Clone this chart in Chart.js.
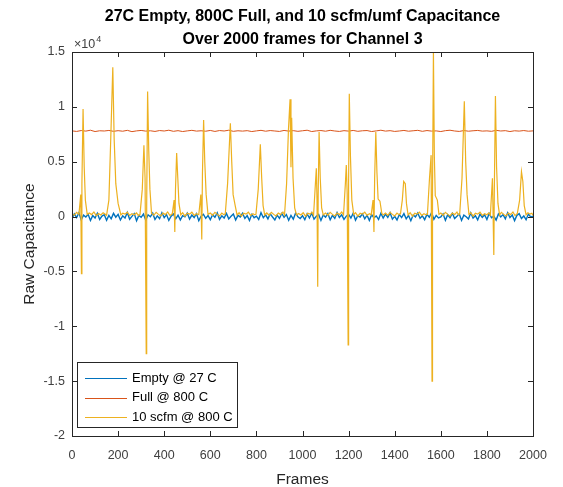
<!DOCTYPE html>
<html>
<head>
<meta charset="utf-8">
<title>Capacitance over 2000 frames</title>
<script src="https://cdn.jsdelivr.net/npm/chart.js@4"></script>
<style>
    html, body { margin: 0; padding: 0; background: #ffffff; }
    #wrap { width: 563px; height: 487px; }
</style>
</head>
<body>
<div id="wrap"><canvas id="capChart" width="563" height="487"></canvas></div>
<script>
// chart data
const titleLines = ['27C Empty, 800C Full, and 10 scfm/umf Capacitance', 'Over 2000 frames for Channel 3'];
const seriesNames = ['Empty @ 27 C', 'Full @ 800 C', '10 scfm @ 800 C'];
const xTicks = [0, 200, 400, 600, 800, 1000, 1200, 1400, 1600, 1800, 2000];
const yTicks = [-20000, -15000, -10000, -5000, 0, 5000, 10000, 15000];

// Empty @ 27 C, one value every 10 frames
const emptyStep = 10;
const emptyValues = [
    -180, 250, -90, 340, -300, 130, -40, 210, -360, 90,
    -130, 300, -260, 40, 170, -340, 100, -210, 290, -60,
    200, -310, 70, -140, 370, -240, 20, 270, -380, 110,
    -70, 230, -330, 160, -20, 310, -270, 60, -190, 350,
    -100, 180, -350, 30, 240, -200, 130, -300, 80, -30,
    320, -230, 140, -90, 270, -370, 40, 210, -160, 100,
    -280, 170, -60, 340, -250, 70, -130, 280, -210, 20,
    230, -320, 110, -30, 300, -170, 90, -360, 200, -100,
    40, -270, 350, -110, 160, -210, 250, -40, -310, 130,
    -160, 280, -70, 180, -340, 100, -240, 310, -20, -180,
    80, -280, 240, -130, 320, -230, 30, 200, -350, 140,
    -60, 270, -300, 110, -170, 360, -80, 160, -250, 40,
    210, -130, 310, -340, 70, -40, 250, -200, 130, -360,
    170, -100, 60, -270, 300, -140, 230, -70, 340, -240,
    20, -310, 180, -90, 270, -210, 100, -380, 140, -30,
    320, -160, 70, -280, 200, -60, 360, -250, 110, -130,
    -40, 240, -340, 170, -100, 300, -180, 30, 250, -350,
    130, -20, -230, 340, -130, 80, -300, 210, -70, 160,
    -270, 280, -110, 40, -320, 240, -30, 180, -200, 350,
    -80, 140, -370, 110, 270, -170, 60, -280, 230, -40,
    30
];

// Full @ 800 C, one value every 20 frames
const fullStep = 20;
const fullValues = [
    7810, 7760, 7840, 7790, 7870, 7750, 7820, 7800, 7850, 7770,
    7830, 7780, 7860, 7740, 7810, 7850, 7790, 7820, 7760, 7840,
    7800, 7870, 7770, 7830, 7750, 7810, 7860, 7790, 7820, 7780,
    7850, 7760, 7840, 7800, 7870, 7770, 7820, 7790, 7830, 7750,
    7810, 7860, 7780, 7840, 7800, 7760, 7850, 7790, 7830, 7770,
    7820, 7870, 7750, 7810, 7840, 7780, 7860, 7800, 7760, 7830,
    7790, 7850, 7770, 7820, 7840, 7750, 7810, 7870, 7790, 7830,
    7760, 7800, 7850, 7780, 7820, 7860, 7770, 7840, 7790, 7810,
    7750, 7830, 7870, 7800, 7760, 7840, 7780, 7820, 7850, 7790,
    7810, 7770, 7860, 7800, 7830, 7750, 7820, 7790, 7840, 7780,
    7810
];

// 10 scfm @ 800 C, [frame, value] pairs (noisy baseline plus bubble spikes)
const scfmPoints = [
    [0, 250], [10, 120], [20, 380], [30, 200],
    [38, 2000], [41, -5200], [43, 3000], [48, 9800], [53, 4500], [58, 1500], [66, 200],
    [75, 320], [85, 180], [95, 420], [105, 90], [115, 280], [125, 150], [135, 350], [143, 240],
    [150, 120], [160, 1500], [168, 7000], [177, 13600], [183, 7000], [190, 3000], [200, 1200], [212, 150],
    [220, 300], [230, 220], [240, 400], [250, 110], [260, 260], [270, 170], [280, 330], [288, 80],
    [295, 200], [305, 2500], [312, 6500], [317, 3500], [322, -12500], [324, 1000], [328, 11400],
    [333, 6000], [338, 2500], [345, 300],
    [355, 120], [365, 380], [375, 200], [385, 60], [395, 320], [405, 180], [415, 420], [425, 90],
    [435, 250], [443, 1500], [446, -1400], [449, 2500], [454, 5800], [459, 3500], [464, 1200], [472, 150],
    [480, 350], [490, 40], [500, 300], [510, 220], [520, 400], [530, 110], [540, 260],
    [550, 170], [559, 2000], [563, -2100], [566, 4000], [571, 8800], [576, 5000], [582, 2000], [590, 200],
    [600, 330], [610, 120], [620, 380], [630, 200], [640, 60], [650, 320], [658, 180],
    [665, 250], [675, 3000], [687, 8500], [693, 5000], [699, 2000], [708, 1000], [716, 150],
    [725, 350], [735, 40], [745, 300], [755, 220], [765, 400], [775, 110], [785, 260], [792, 170],
    [798, 200], [808, 2500], [817, 6600], [823, 3500], [829, 1000], [836, 150],
    [845, 330], [855, 120], [865, 380], [875, 200], [885, 60], [895, 320], [905, 180], [915, 420],
    [922, 150], [931, 3000], [939, 7900], [946, 10700], [950, 4500], [953, 9000], [959, 3500],
    [966, 800], [974, 150],
    [983, 280], [993, 150], [1003, 350], [1013, 40], [1023, 300], [1033, 220], [1041, 400],
    [1048, 110], [1056, 3000], [1060, 4400], [1063, 1500], [1066, -6400], [1068, 2000], [1072, 7700],
    [1077, 3500], [1083, 800], [1090, 150],
    [1100, 330], [1110, 120], [1120, 380], [1130, 200], [1140, 60], [1150, 320], [1160, 180], [1170, 420],
    [1178, 150], [1186, 3000], [1190, 4700], [1194, 2000], [1198, -11700], [1200, 3000], [1203, 11200],
    [1208, 5500], [1214, 1500], [1222, 200],
    [1230, 350], [1240, 40], [1250, 300], [1260, 220], [1270, 400], [1280, 110], [1290, 260],
    [1298, 170], [1306, 1500], [1310, -1400], [1313, 3500], [1318, 7700], [1323, 4000], [1328, 1600],
    [1336, 1400], [1344, 300], [1350, 150],
    [1360, 330], [1370, 120], [1380, 380], [1390, 200], [1400, 60], [1410, 320], [1418, 180],
    [1425, 250], [1433, 1500], [1439, 3200], [1446, 3000], [1451, 1200], [1458, 150],
    [1467, 350], [1477, 40], [1487, 300], [1497, 220], [1507, 400], [1517, 110], [1527, 260], [1535, 170],
    [1542, 200], [1551, 3500], [1558, 5600], [1562, -15000], [1564, 2000], [1568, 15000], [1572, 5500],
    [1576, 1900], [1585, 1500], [1592, 200],
    [1600, 330], [1610, 120], [1620, 380], [1630, 200], [1640, 60], [1650, 320], [1660, 180], [1670, 420],
    [1676, 150],
    [1682, 250], [1692, 3500], [1702, 10500], [1708, 5000], [1714, 2000], [1722, 200],
    [1730, 350], [1740, 40], [1750, 300], [1760, 220], [1770, 400], [1780, 110], [1790, 260], [1800, 170],
    [1808, 330],
    [1815, 120], [1824, 3500], [1830, -3500], [1832, 2000], [1837, 11000], [1842, 4500], [1848, 1200],
    [1855, 150],
    [1863, 380], [1873, 200], [1883, 60], [1893, 320], [1903, 180], [1913, 420], [1922, 90],
    [1932, 280], [1942, 1500], [1950, 4100], [1956, 3200], [1962, 1000], [1970, 150],
    [1978, 350], [1987, 220], [1995, 300], [2000, 120]
];

const seriesColors = ['#0072BD', '#D95319', '#EDB120'];
const axisColor = '#262626';
const labelColor = '#404040';
const fontFamily = '"Liberation Sans", Arial, Helvetica, sans-serif';

(function() {
    const ctx = document.getElementById('capChart').getContext('2d');

    const emptyData = emptyValues.map((v, i) => ({ x: i * emptyStep, y: v }));
    const fullData = fullValues.map((v, i) => ({ x: i * fullStep, y: v }));
    const scfmData = scfmPoints.map(p => ({ x: p[0], y: p[1] }));

    // title, box with inward ticks, x10^4 note and legend drawn on top
    const matlabLook = {
        id: 'matlabLook',
        afterDatasetsDraw(chart) {
            const c = chart.ctx;
            const a = chart.chartArea;
            const xs = chart.scales.x;
            const ys = chart.scales.y;
            c.save();
            c.strokeStyle = axisColor;
            c.lineWidth = 1;
            c.strokeRect(Math.round(a.left) + 0.5, Math.round(a.top) + 0.5,
                Math.round(a.right - a.left), Math.round(a.bottom - a.top));
            c.beginPath();
            xTicks.forEach(t => {
                const px = Math.round(xs.getPixelForValue(t)) + 0.5;
                c.moveTo(px, a.bottom); c.lineTo(px, a.bottom - 5);
                c.moveTo(px, a.top); c.lineTo(px, a.top + 5);
            });
            yTicks.forEach(t => {
                const py = Math.round(ys.getPixelForValue(t)) + 0.5;
                c.moveTo(a.left, py); c.lineTo(a.left + 5, py);
                c.moveTo(a.right, py); c.lineTo(a.right - 5, py);
            });
            c.stroke();

            // exponent label
            c.fillStyle = labelColor;
            c.textBaseline = 'alphabetic';
            c.textAlign = 'left';
            c.font = '12.5px ' + fontFamily;
            c.fillText('\u00d710', a.left + 2, a.top - 4);
            const w = c.measureText('\u00d710').width;
            c.font = '9px ' + fontFamily;
            c.fillText('4', a.left + 2 + w + 1, a.top - 10);

            // title
            const cx = (a.left + a.right) / 2;
            c.fillStyle = '#000000';
            c.textAlign = 'center';
            c.textBaseline = 'middle';
            c.font = 'bold 16px ' + fontFamily;
            c.fillText(titleLines[0], cx, 17);
            c.fillText(titleLines[1], cx, 40);

            // legend box
            const lx = 77, ly = 362, lw = 160, lh = 65;
            c.fillStyle = '#ffffff';
            c.fillRect(lx, ly, lw, lh);
            c.strokeStyle = axisColor;
            c.strokeRect(lx + 0.5, ly + 0.5, lw, lh);
            c.font = '13px ' + fontFamily;
            c.textAlign = 'left';
            seriesNames.forEach((name, i) => {
                const ry = 378 + i * 19.5;
                c.strokeStyle = seriesColors[i];
                c.beginPath();
                c.moveTo(85, Math.round(ry) + 0.5);
                c.lineTo(127, Math.round(ry) + 0.5);
                c.stroke();
                c.fillStyle = '#000000';
                c.fillText(name, 132, ry);
            });
            c.restore();
        }
    };

    new Chart(ctx, {
        type: 'line',
        data: {
            datasets: [
                { label: seriesNames[0], data: emptyData, borderColor: seriesColors[0], borderWidth: 1.4, pointRadius: 0, order: 3 },
                { label: seriesNames[1], data: fullData, borderColor: seriesColors[1], borderWidth: 1, pointRadius: 0, order: 2 },
                { label: seriesNames[2], data: scfmData, borderColor: seriesColors[2], borderWidth: 1.2, pointRadius: 0, order: 1 }
            ]
        },
        options: {
            responsive: false,
            animation: false,
            layout: { padding: { top: 52, right: 30, left: 0, bottom: 0 } },
            scales: {
                x: {
                    type: 'linear',
                    min: 0,
                    max: 2000,
                    afterFit: s => { s.height = 51; },
                    afterBuildTicks: s => { s.ticks = xTicks.map(v => ({ value: v })); },
                    grid: { display: false, drawTicks: false },
                    border: { display: false },
                    ticks: {
                        padding: 12,
                        color: labelColor,
                        font: { family: fontFamily, size: 12.5 },
                        maxRotation: 0,
                        callback: function(value) {
                            return String(value);
                        }
                    },
                    title: {
                        display: true,
                        text: 'Frames',
                        color: '#262626',
                        font: { family: fontFamily, size: 15.5, lineHeight: 1 },
                        padding: { top: 0, bottom: 0 }
                    }
                },
                y: {
                    type: 'linear',
                    min: -20000,
                    max: 15000,
                    afterFit: s => { s.width = 72; },
                    afterBuildTicks: s => { s.ticks = yTicks.map(v => ({ value: v })); },
                    grid: { display: false, drawTicks: false },
                    border: { display: false },
                    ticks: {
                        padding: 7,
                        color: labelColor,
                        font: { family: fontFamily, size: 12.5 },
                        callback: function(value) {
                            return String(value / 10000);
                        }
                    },
                    title: {
                        display: true,
                        text: 'Raw Capacitance',
                        color: '#262626',
                        font: { family: fontFamily, size: 15.5 },
                        padding: { top: 20, bottom: 0 }
                    }
                }
            },
            plugins: {
                legend: { display: false },
                title: { display: false },
                tooltip: { enabled: false }
            }
        },
        plugins: [matlabLook]
    });
})();
</script>
</body>
</html>
